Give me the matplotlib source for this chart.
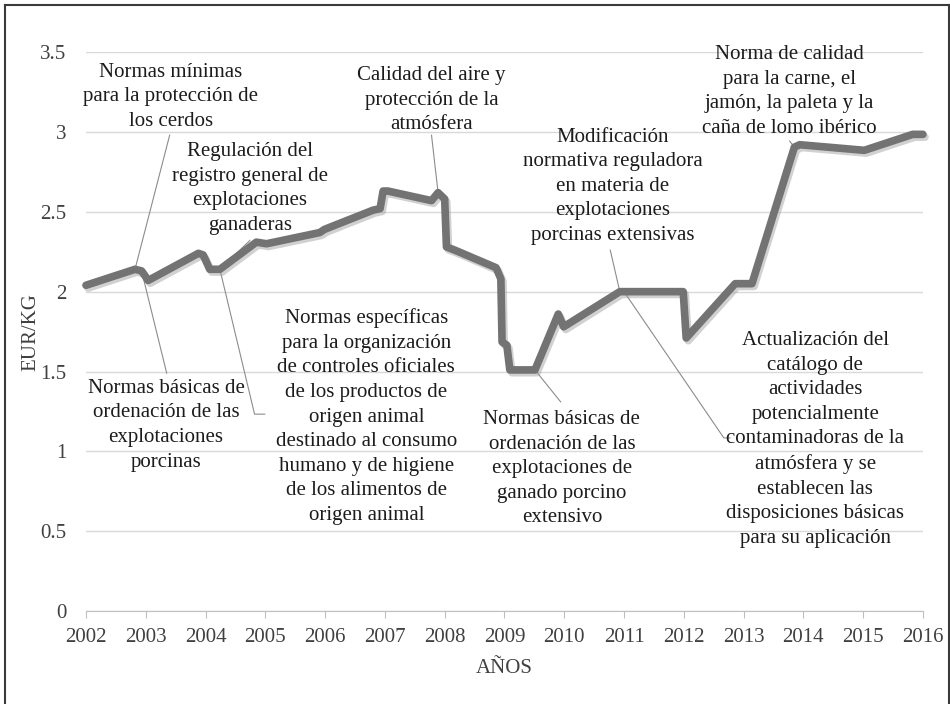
import matplotlib
matplotlib.use('Agg')
import matplotlib.pyplot as plt
import matplotlib.patheffects as pe
from matplotlib.lines import Line2D

OUT_FILE = 'out.png'

# price series (decimal year, EUR/kg)
YEARS = [2002.0, 2002.82, 2002.93, 2003.04, 2003.88, 2003.96, 2004.07, 2004.24,
         2004.85, 2005.02, 2005.91, 2005.99, 2006.80, 2006.92, 2006.97, 2007.05,
         2007.78, 2007.89, 2008.0, 2008.03, 2008.17, 2008.86, 2008.94, 2008.96,
         2009.04, 2009.09, 2009.51, 2009.90, 2009.99, 2010.93, 2011.0, 2011.99,
         2012.04, 2012.86, 2013.14, 2013.85, 2013.94, 2015.02, 2015.83, 2016.0]
PRICES = [2.04, 2.14, 2.13, 2.07, 2.24, 2.23, 2.14, 2.14,
          2.31, 2.30, 2.37, 2.39, 2.51, 2.52, 2.63, 2.63,
          2.57, 2.62, 2.58, 2.28, 2.26, 2.15, 2.08, 1.685,
          1.665, 1.51, 1.51, 1.86, 1.78, 2.0, 2.0, 2.0,
          1.71, 2.05, 2.05, 2.905, 2.92, 2.885, 2.985, 2.985]

X_TICKS = list(range(2002, 2017))
Y_TICKS = [0, 0.5, 1, 1.5, 2, 2.5, 3, 3.5]
Y_TICK_LABELS = ['0', '0.5', '1', '1.5', '2', '2.5', '3', '3.5']

NOTE_TEXTS = [
    'Normas mínimas\npara la protección de\nlos cerdos',
    'Normas básicas de\nordenación de las\nexplotaciones\nporcinas',
    'Regulación del\nregistro general de\nexplotaciones\nganaderas',
    'Normas específicas\npara la organización\nde controles oficiales\n'
    'de los productos de\norigen animal\ndestinado al consumo\n'
    'humano y de higiene\nde los alimentos de\norigen animal',
    'Calidad del aire y\nprotección de la\natmósfera',
    'Modificación\nnormativa reguladora\nen materia de\nexplotaciones\n'
    'porcinas extensivas',
    'Normas básicas de\nordenación de las\nexplotaciones de\n'
    'ganado porcino\nextensivo',
    'Norma de calidad\npara la carne, el\njamón, la paleta y la\n'
    'caña de lomo ibérico',
    'Actualización del\ncatálogo de\nactividades\npotencialmente\n'
    'contaminadoras de la\natmósfera y se\nestablecen las\n'
    'disposiciones básicas\npara su aplicación',
]
# text centres (data coords)
NOTE_POS = [(2003.42, 3.22), (2003.34, 1.164), (2004.74, 2.647),
            (2006.69, 1.217), (2007.78, 3.199), (2010.81, 2.66),
            (2009.96, 0.892), (2013.76, 3.254), (2014.20, 1.074)]
# index of the series point each leader starts from
NOTE_ANCHOR = [1, 2, 7, 7, 17, 29, 26, 35, 30]
# remaining leader vertices
NOTE_LEADER = [
    [(2003.40, 2.98)],
    [(2003.35, 1.49)],
    [(2004.74, 2.32)],
    [(2004.82, 1.233), (2004.99, 1.233)],
    [(2007.78, 2.98)],
    [(2010.77, 2.26)],
    [(2009.94, 1.31)],
    [(2013.77, 2.943)],
    [(2012.67, 1.084), (2012.77, 1.084)],
]

FONT = 'Liberation Serif'
TEXT_COLOR = '#1c1c1c'
AXIS_COLOR = '#404040'


def draw_chart(file_path):
    """Draws the price line with its regulation notes and saves it."""
    fig = plt.figure(figsize=(9.5, 7.04), dpi=100)
    ax = fig.add_axes([0.0905, 0.132, 0.881, 0.794])

    ax.plot(YEARS, PRICES, color='#737373', lw=5.5, solid_joinstyle='round',
            solid_capstyle='round', zorder=3, clip_on=False,
            path_effects=[pe.SimpleLineShadow(offset=(1.5, -2), shadow_color='#9a9a9a',
                                              alpha=0.45),
                          pe.Normal()])

    for text, pos, anchor, leader in zip(NOTE_TEXTS, NOTE_POS, NOTE_ANCHOR, NOTE_LEADER):
        xs = [YEARS[anchor]] + [p[0] for p in leader]
        ys = [PRICES[anchor]] + [p[1] for p in leader]
        ax.plot(xs, ys, color='#8c8c8c', lw=0.8, zorder=2)
        ax.text(pos[0], pos[1], text, ha='center', va='center', multialignment='center',
                fontsize=15, family=FONT, color=TEXT_COLOR, linespacing=1.4, zorder=4)

    ax.set_xlim(2002, 2016)
    ax.set_ylim(0, 3.5)
    ax.set_xticks(X_TICKS)
    ax.set_xticklabels([str(y) for y in X_TICKS], family=FONT, fontsize=15, color=AXIS_COLOR)
    ax.set_yticks(Y_TICKS)
    ax.set_yticklabels(Y_TICK_LABELS, family=FONT, fontsize=15, color=AXIS_COLOR)
    ax.grid(axis='y', color='#d9d9d9', lw=1)
    ax.set_axisbelow(True)
    for side in ['left', 'right', 'top']:
        ax.spines[side].set_visible(False)
    ax.spines['bottom'].set_color('#bfbfbf')
    ax.tick_params(axis='x', length=5, color='#bfbfbf', pad=7)
    ax.tick_params(axis='y', length=0, pad=14)

    ax.set_xlabel('AÑOS', family=FONT, fontsize=15, color=AXIS_COLOR, labelpad=9)
    ax.set_ylabel('EUR/KG', family=FONT, fontsize=15, color=AXIS_COLOR, labelpad=0)

    # frame round the picture (left, top, right)
    border = dict(color='#3a3a3a', lw=1.5, transform=fig.transFigure)
    fig.add_artist(Line2D([0.0055, 0.0055], [0, 0.9935], **border))
    fig.add_artist(Line2D([0.0055, 0.9985], [0.9935, 0.9935], **border))
    fig.add_artist(Line2D([0.9985, 0.9985], [0, 0.9935], **border))

    fig.savefig(file_path, dpi=100)
    plt.close(fig)


if __name__ == '__main__':
    draw_chart(OUT_FILE)
